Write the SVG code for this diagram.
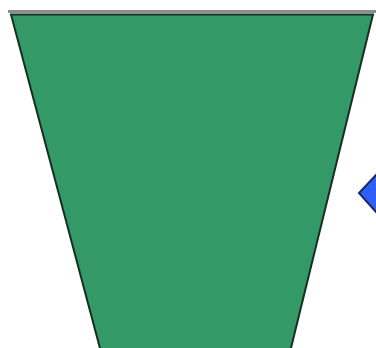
<svg xmlns="http://www.w3.org/2000/svg" width="376" height="348" viewBox="0 0 376 348">
<style>
.shape{stroke:#16301f;stroke-width:2;stroke-linejoin:miter}
</style>
<rect width="376" height="348" fill="#ffffff"/>
<g id="funnel">
<polygon class="shape" points="11,14.5 373,14.5 290,352 101,352" fill="#339966"/>
</g>
<g id="topline">
<line x1="8" y1="11.5" x2="376" y2="11.5" stroke="#8c8c8c" stroke-width="3"/>
</g>
<g id="diamond">
<polygon points="376,175 394,193 376,212 359,193" fill="#2f5ff5" stroke="#1a2a60" stroke-width="2"/>
</g>
<g id="connectors"></g>
</svg>
